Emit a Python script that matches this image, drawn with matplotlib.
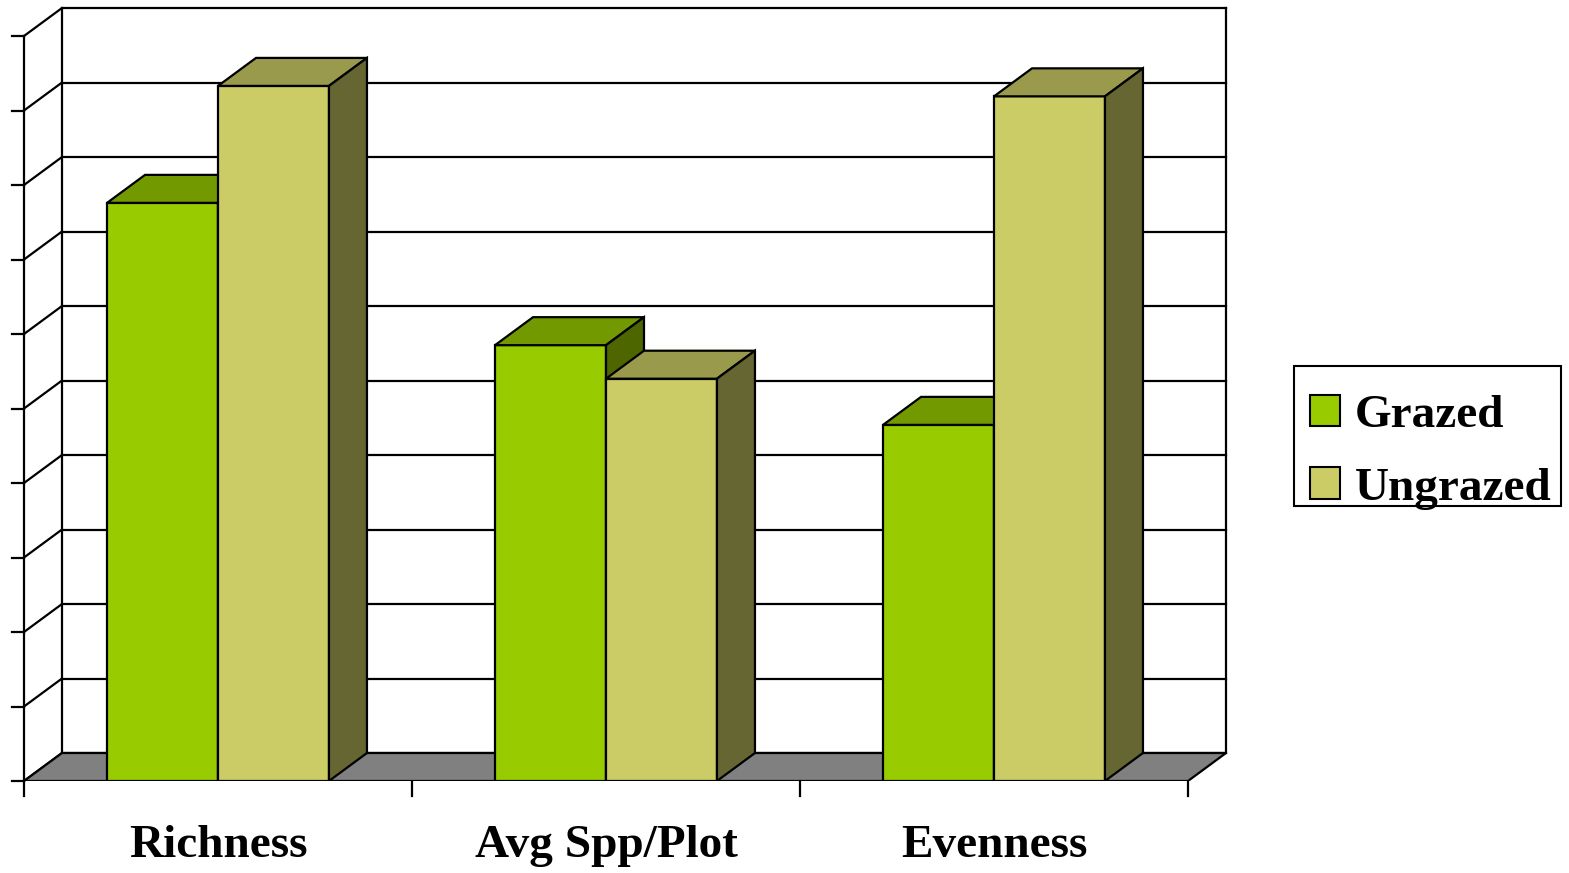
import matplotlib
matplotlib.use("Agg")
import matplotlib.pyplot as plt
from matplotlib.patches import Polygon, Patch, Rectangle
import numpy as np

categories = ["Richness", "Avg Spp/Plot", "Evenness"]
series_names = ["Grazed", "Ungrazed"]
grazed = [7.76, 5.85, 4.78]
ungrazed = [9.33, 5.40, 9.19]

front_colors = ["#99CC00", "#CCCC66"]
top_colors = ["#739900", "#9A9A4C"]
side_colors = ["#4D6600", "#666633"]

W, H = 1569, 873
fig = plt.figure(figsize=(W / 100, H / 100), dpi=100)
ax = fig.add_axes([24 / W, 92 / H, 1202 / W, 773 / H])
n = len(categories)
ymax = 10
dx = 38 / 388.0
dy = 28 / 74.5
ax.set_xlim(0, n + dx)
ax.set_ylim(0, ymax + dy)
ax.axis("off")

lw = 1.6
# back wall gridlines and left wall diagonals
for k in range(ymax + 1):
    ax.plot([dx, n + dx], [dy + k, dy + k], color="black", lw=lw, zorder=1, clip_on=False)
    ax.plot([0, dx], [k, dy + k], color="black", lw=lw, zorder=1, clip_on=False)
    ax.plot([-0.03, 0], [k, k], color="black", lw=lw, zorder=1, clip_on=False)
ax.plot([dx, dx], [dy, dy + ymax], color="black", lw=lw, zorder=1)
ax.plot([n + dx, n + dx], [dy, dy + ymax], color="black", lw=lw, zorder=1, clip_on=False)
ax.plot([0, 0], [0, ymax], color="black", lw=lw, zorder=1, clip_on=False)
# floor
floor = Polygon([(0, 0), (n, 0), (n + dx, dy), (dx, dy)], closed=True,
                facecolor="#808080", edgecolor="black", lw=lw, zorder=2)
ax.add_patch(floor)
# category ticks
for i in range(n + 1):
    ax.plot([i, i], [0, -0.2], color="black", lw=lw, zorder=1, clip_on=False)

bw = 0.286
start = 0.5 - bw
for i in range(n):
    for s, vals in enumerate([grazed, ungrazed]):
        x0 = i + start + s * bw
        v = vals[i]
        z = 3 + i * 10 + s * 3
        ax.bar(x0, v, width=bw, align="edge", color=front_colors[s],
               edgecolor="black", lw=lw, zorder=z)
        top = Polygon([(x0, v), (x0 + bw, v), (x0 + bw + dx, v + dy), (x0 + dx, v + dy)],
                      closed=True, facecolor=top_colors[s], edgecolor="black", lw=lw, zorder=z + 1)
        side = Polygon([(x0 + bw, 0), (x0 + bw + dx, dy), (x0 + bw + dx, v + dy), (x0 + bw, v)],
                       closed=True, facecolor=side_colors[s], edgecolor="black", lw=lw, zorder=z + 1)
        ax.add_patch(top)
        ax.add_patch(side)

font = dict(family=["Liberation Serif", "DejaVu Serif"], weight="bold", size=34)
for i, c in enumerate(categories):
    ax.text(i + 0.5, -1.02, c, ha="center", va="baseline", clip_on=False, **font)

# legend frame
fig.patches.append(Rectangle((1294 / W, 1 - 506 / H), 267 / W, 140 / H,
                             transform=fig.transFigure, facecolor="white",
                             edgecolor="black", lw=1.5, zorder=0))
handles = [Patch(facecolor=front_colors[s], edgecolor="black", lw=1.5) for s in range(2)]
leg = fig.legend(handles, series_names, loc="upper left",
                 bbox_to_anchor=(1310 / W, 1 - 395 / H),
                 frameon=False,
                 prop=dict(family="Liberation Serif", weight="bold", size=34),
                 handlelength=0.64, handleheight=0.64, handletextpad=0.3,
                 borderpad=0, labelspacing=0.64, borderaxespad=0)

fig.savefig("out.png", dpi=100)
